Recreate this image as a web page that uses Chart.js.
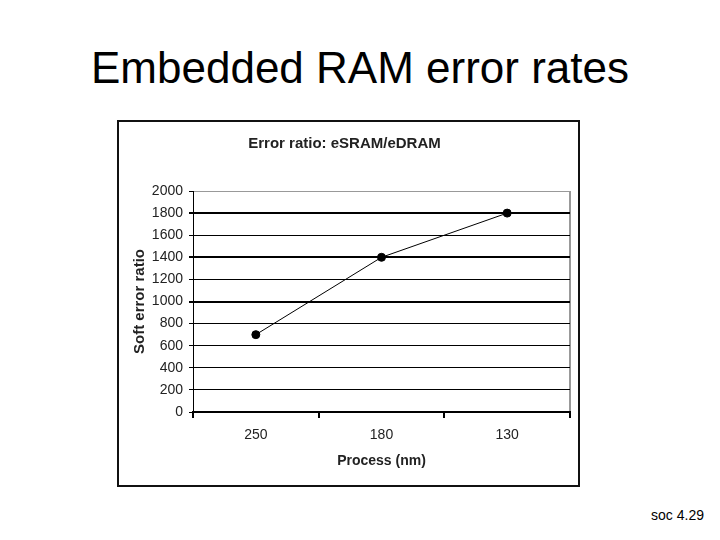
<!DOCTYPE html>
<html lang="en">
<head>
  <meta charset="UTF-8">
  <title>Embedded RAM error rates</title>
  <style>
    body { margin: 0; background: #fff; font-family: "Liberation Sans", Arial, sans-serif; }
    .slide { position: relative; width: 720px; height: 540px; overflow: hidden; }
    .titulo { position: absolute; left: 0; top: 46px; width: 720px; text-align: center; font-size: 44px; line-height: 44px; color: #000; }
    .caixa { position: absolute; left: 117px; top: 120px; width: 463px; height: 367px; border: 2px solid #111; box-sizing: border-box; background: #fff; }
    .rodape { position: absolute; right: 16px; top: 508px; font-size: 14px; line-height: 14px; color: #000; }
  </style>
</head>
<body>
  <div class="slide">
    <div class="titulo">Embedded RAM error rates</div>
    <div class="caixa"><canvas id="grafico"></canvas></div>
    <div class="rodape">soc 4.29</div>
  </div>

  <script src="https://cdn.jsdelivr.net/npm/chart.js"></script>
  <script>
    // Dados
    const processos = ['250', '180', '130'];
    const razaoErro = [700, 1400, 1800];
    const yMin = 0;
    const yMax = 2000;
    const yPasso = 200;

    const fonte = '"Liberation Sans", Arial, sans-serif';
    const ctx = document.getElementById('grafico').getContext('2d');

    new Chart(ctx, {
      type: 'line',
      data: {
        labels: processos,
        datasets: [{
          label: 'Error ratio',
          data: razaoErro,
          borderColor: '#000',
          borderWidth: 1,
          backgroundColor: '#000',
          pointRadius: 4,
          pointHoverRadius: 4,
          pointBackgroundColor: '#000',
          pointBorderColor: '#000',
          tension: 0,
          fill: false
        }]
      },
      options: {
        responsive: true,
        maintainAspectRatio: false,
        animation: false,
        layout: { padding: { left: 0, right: 8, top: 0, bottom: 0 } },
        plugins: {
          legend: { display: false },
          tooltip: { enabled: false },
          title: {
            display: true,
            text: 'Error ratio: eSRAM/eDRAM',
            color: '#222',
            font: { family: fonte, size: 15, weight: 'bold' },
            padding: { top: 13, bottom: 38 }
          }
        },
        scales: {
          x: {
            offset: true,
            grid: {
              offset: true,
              drawOnChartArea: true,
              color: c => c.type === 'tick' ? 'rgba(0,0,0,0)' : '#999',
              tickColor: '#000',
              tickLength: 6,
              lineWidth: 2
            },
            border: { color: '#000', width: 2 },
            ticks: { color: '#222', font: { family: fonte, size: 14 }, padding: 9 },
            title: {
              display: true,
              text: 'Process (nm)',
              color: '#222',
              font: { family: fonte, size: 14, weight: 'bold' },
              padding: { top: 0, bottom: 15 }
            },
            afterFit: s => { s.height = 73; }
          },
          y: {
            min: yMin,
            max: yMax,
            grid: {
              color: c => (c.tick && c.tick.value === yMax) ? '#999' : '#000',
              lineWidth: c => (c.tick && [1000, 1400, 1800].includes(c.tick.value)) ? 2 : 1,
              tickColor: '#000',
              tickLength: 4
            },
            border: { color: '#000', width: 1 },
            ticks: {
              stepSize: yPasso,
              color: '#222',
              font: { family: fonte, size: 14 },
              padding: 6,
              callback: v => String(v)
            },
            title: {
              display: true,
              text: 'Soft error ratio',
              color: '#222',
              font: { family: fonte, size: 15, weight: 'bold' },
              padding: { top: 12, bottom: 0 }
            },
            afterFit: s => { s.width = 74; }
          }
        }
      }
    });
  </script>
</body>
</html>
